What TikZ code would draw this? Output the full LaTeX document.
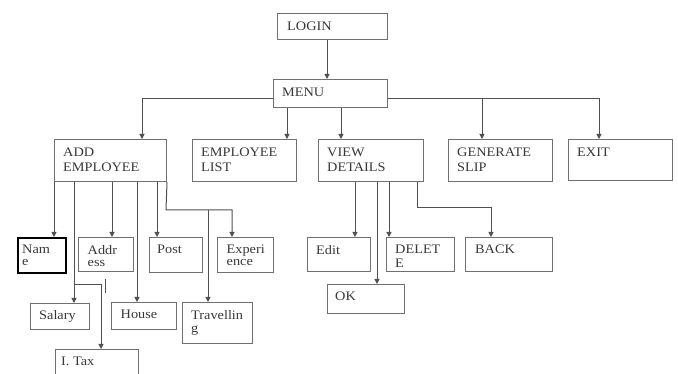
\documentclass[tikz,border=0pt]{standalone}
\usepackage{fontspec}
\setmainfont{Liberation Serif}[FakeStretch=1.1]
\usetikzlibrary{arrows.meta}
\definecolor{boxc}{HTML}{707070}
\definecolor{linec}{HTML}{505050}
\definecolor{txtc}{HTML}{383838}
\tikzset{
  box/.style={draw=boxc, line width=1pt, inner sep=0pt, anchor=north west},
  lbl/.style={anchor=north west, inner sep=0pt, text=txtc, font=\fontsize{13}{15}\selectfont, align=left},
  arr/.style={draw=linec, line width=1pt, -{Triangle[length=5pt,width=5pt]}},
  ln/.style={draw=linec, line width=1pt},
  thickbox/.style={draw=black, line width=2pt}
}
% #1 opt style, #2 name, #3 x, #4 y, #5 w, #6 h, #7 dx, #8 dy, #9 text
\newcommand{\mybox}[9][]{%
  \node[box,minimum width=#5,minimum height=#6,#1] (#2) at (#3,#4) {};
  \node[lbl] (#2-t) at ([shift={(#7,#8)}]#2.north west) {#9};}
\begin{document}
\begin{tikzpicture}[x=1pt,y=-1pt]
\useasboundingbox (0,0) rectangle (678,374);
% boxes
\mybox{login}{277}{13}{110}{26}{10}{8.5}{LOGIN}
\mybox{menu}{273}{79}{114}{28}{9}{8.5}{MENU}
\mybox{add}{54}{139}{112}{42}{9}{8.5}{ADD\\EMPLOYEE}
\mybox{elist}{192}{139}{104}{42}{9}{8.5}{EMPLOYEE\\LIST}
\mybox{view}{318}{139}{105}{42}{9}{8.5}{VIEW\\DETAILS}
\mybox{gen}{448}{139}{104}{42}{9}{8.5}{GENERATE\\SLIP}
\mybox{exit}{568}{139}{104}{41}{9}{8.5}{EXIT}
\mybox[thickbox]{name}{17}{237}{48}{35}{5}{8}{Nam\\[-3pt]e}
\mybox{addr}{78}{237}{55}{34}{9.5}{8}{Addr\\[-3pt]ess}
\mybox{post}{149}{237}{53}{35}{8}{8}{Post}
\mybox{exp}{217}{237}{56}{35}{9.5}{8}{Experi\\[-3pt]ence}
\mybox{salary}{30}{303}{59}{26}{9}{7.5}{Salary}
\mybox{house}{111}{302}{65}{27}{9.5}{7.5}{House}
\mybox{trav}{182}{302}{70}{41}{9}{8}{Travellin\\[-2pt]g}
\mybox{itax}{55}{349}{83}{32}{6}{7.5}{I. Tax}
\mybox{edit}{307}{237}{63}{34}{9}{8}{Edit}
\mybox{del}{386}{237}{68}{34}{9}{8}{DELET\\[-1pt]E}
\mybox{back}{465}{237}{87}{34}{10}{8}{BACK}
\mybox{ok}{327}{284}{77}{29}{8}{8}{OK}
% junction coordinates
\coordinate (jl) at (142,99);
\coordinate (jr) at (599,99);
\coordinate (jg) at (482,99);
\coordinate (je) at (166,210);
\coordinate (jtr) at (208,210);
\coordinate (jt) at (74,285);
\coordinate (tk1) at (105,279);
\coordinate (tk2) at (105,293);
\coordinate (jb) at (417,208);
% connectors
\draw[arr] (327,0 |- login.south) -- (327,0 |- menu.north);
\draw[arr] (menu.west |- jl) -| (add.north -| jl);
\draw[arr] (menu.east |- jr) -| (exit.north -| jr);
\draw[arr] (jg) -- (gen.north -| jg);
\draw[arr] (287,0 |- menu.south) -- (287,0 |- elist.north);
\draw[arr] (341,0 |- menu.south) -- (341,0 |- view.north);
% add employee
\draw[arr] (add.south west) -- (add.south west |- name.north);
\draw[arr] (74,0 |- add.south) -- (74,0 |- salary.north);
\draw[arr] (jt) -| (101,0 |- itax.north);
\draw[ln] (tk1) -- (tk2);
\draw[arr] (112,0 |- add.south) -- (112,0 |- addr.north);
\draw[arr] (137,0 |- add.south) -- (137,0 |- house.north);
\draw[arr] (157,0 |- add.south) -- (157,0 |- post.north);
\draw[arr] (add.south east) -- (je) -| (232,0 |- exp.north);
\draw[arr] (jtr) -- (jtr |- trav.north);
% view details
\draw[arr] (355,0 |- view.south) -- (355,0 |- edit.north);
\draw[arr] (377,0 |- view.south) -- (377,0 |- ok.north);
\draw[arr] (389,0 |- view.south) -- (389,0 |- del.north);
\draw[arr] (jb |- view.south) -- (jb) -| (491,0 |- back.north);
\end{tikzpicture}
\end{document}
